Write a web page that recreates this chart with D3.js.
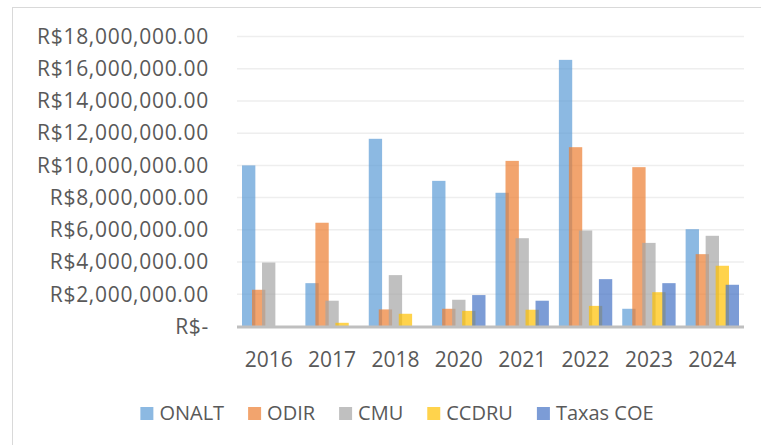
<!DOCTYPE html>
<html>
<head>
    <meta charset="utf-8" />
    <title></title>
    <style>
        body{
            margin:0;
            background:#fff;
        }
        text{
            font-family:"Open Sans", sans-serif;
            fill:#595959;
        }
    </style>
</head>
<body>
    <div id="chart"></div>
    <script src="https://cdn.jsdelivr.net/npm/d3@7"></script>
    <script>
        // data (R$)
        var years = ["2016", "2017", "2018", "2020", "2021", "2022", "2023", "2024"];
        var seriesNames = ["ONALT", "ODIR", "CMU", "CCDRU", "Taxas COE"];
        var onalt = [10000000, 2690000, 11650000, 9040000, 8300000, 16550000, 1100000, 6040000];
        var odir = [2280000, 6440000, 1060000, 1100000, 10280000, 11130000, 9890000, 4490000];
        var cmu = [3970000, 1600000, 3190000, 1660000, 5480000, 5960000, 5190000, 5630000];
        var ccdru = [0, 230000, 790000, 970000, 1040000, 1280000, 2130000, 3770000];
        var taxasCoe = [0, 0, 0, 1950000, 1600000, 2940000, 2690000, 2590000];
        var yTicks = [0, 2000000, 4000000, 6000000, 8000000, 10000000, 12000000, 14000000, 16000000, 18000000];

        var colors = ["#5B9BD5", "#ED7D31", "#A5A5A5", "#FFC000", "#4472C4"];
        var seriesValues = [onalt, odir, cmu, ccdru, taxasCoe];

        var W = 761, H = 445;
        var plot = { left: 237, right: 744, top: 36.5, bottom: 326.5 };

        var svg = d3.select("#chart")
            .append("svg")
            .attr("width", W)
            .attr("height", H);

        // chart frame (runs off the right/bottom edge like the reference)
        svg.append("rect")
            .attr("x", 12.5)
            .attr("y", 7.5)
            .attr("width", 790)
            .attr("height", 460)
            .attr("fill", "#fff")
            .attr("stroke", "#D9D9D9")
            .attr("stroke-width", 1);

        var x = d3.scaleBand()
            .domain(years)
            .range([plot.left, plot.right]);
        var y = d3.scaleLinear()
            .domain([0, 18000000])
            .range([plot.bottom, plot.top]);

        // excel-ish layout: gap width 75%, overlap 25%
        var overlap = 0.25, gapWidth = 0.75;
        var n = seriesNames.length;
        var barW = x.bandwidth() / (n - (n - 1) * overlap + gapWidth);
        var step = barW * (1 - overlap);

        // gridlines
        svg.append("g")
            .selectAll("line")
            .data(yTicks.filter(function (d) { return d > 0; }))
            .join("line")
            .attr("x1", plot.left)
            .attr("x2", plot.right)
            .attr("y1", function (d) { return y(d); })
            .attr("y2", function (d) { return y(d); })
            .attr("stroke", "#EEEEEE")
            .attr("stroke-width", 1.5);

        // y labels
        var fmt = d3.format(",.2f");
        var yAxis = d3.axisLeft(y)
            .tickValues(yTicks)
            .tickSize(0)
            .tickPadding(28)
            .tickFormat(function (d) { return d === 0 ? "R$-" : "R$" + fmt(d); });
        svg.append("g")
            .attr("transform", "translate(" + plot.left + ",0)")
            .call(yAxis)
            .call(function (g) { g.select(".domain").remove(); })
            .selectAll("text")
            .style("font-size", "21px")
            .style("letter-spacing", "0.7px")
            .attr("fill", "#595959");

        // bars
        seriesValues.forEach(function (vals, si) {
            svg.append("g")
                .attr("class", "series-" + si)
                .selectAll("rect")
                .data(vals.map(function (v, i) { return { year: years[i], value: v }; }))
                .join("rect")
                .attr("x", function (d) { return x(d.year) + gapWidth * barW / 2 + si * step; })
                .attr("y", function (d) { return y(d.value); })
                .attr("width", barW)
                .attr("height", function (d) { return y(0) - y(d.value); })
                .attr("fill", colors[si])
                .attr("fill-opacity", 0.7);
        });

        // category axis line
        svg.append("line")
            .attr("x1", plot.left)
            .attr("x2", plot.right)
            .attr("y1", y(0) + 0.5)
            .attr("y2", y(0) + 0.5)
            .attr("stroke", "#BFBFBF")
            .attr("stroke-width", 3);

        // x labels
        svg.append("g")
            .selectAll("text")
            .data(years)
            .join("text")
            .attr("x", function (d) { return x(d) + x.bandwidth() / 2; })
            .attr("y", 366.5)
            .attr("text-anchor", "middle")
            .style("font-size", "21px")
            .text(function (d) { return d; });

        // legend
        var legend = svg.append("g").attr("class", "legend");
        var items = legend.selectAll("g")
            .data(seriesNames)
            .join("g");
        items.append("rect")
            .attr("width", 13)
            .attr("height", 13)
            .attr("y", -13)
            .attr("fill", function (d, i) { return colors[i]; })
            .attr("fill-opacity", 0.7);
        items.append("text")
            .attr("x", 19)
            .attr("y", 0)
            .style("font-size", "20px")
            .text(function (d) { return d; });
        var lx = 0;
        items.each(function () {
            var w = 19 + d3.select(this).select("text").node().getComputedTextLength();
            d3.select(this).attr("transform", "translate(" + lx + ",0)");
            lx += w + 24;
        });
        var legendW = lx - 24;
        legend.attr("transform", "translate(" + (397 - legendW / 2) + ",420)");
    </script>
</body>
</html>
